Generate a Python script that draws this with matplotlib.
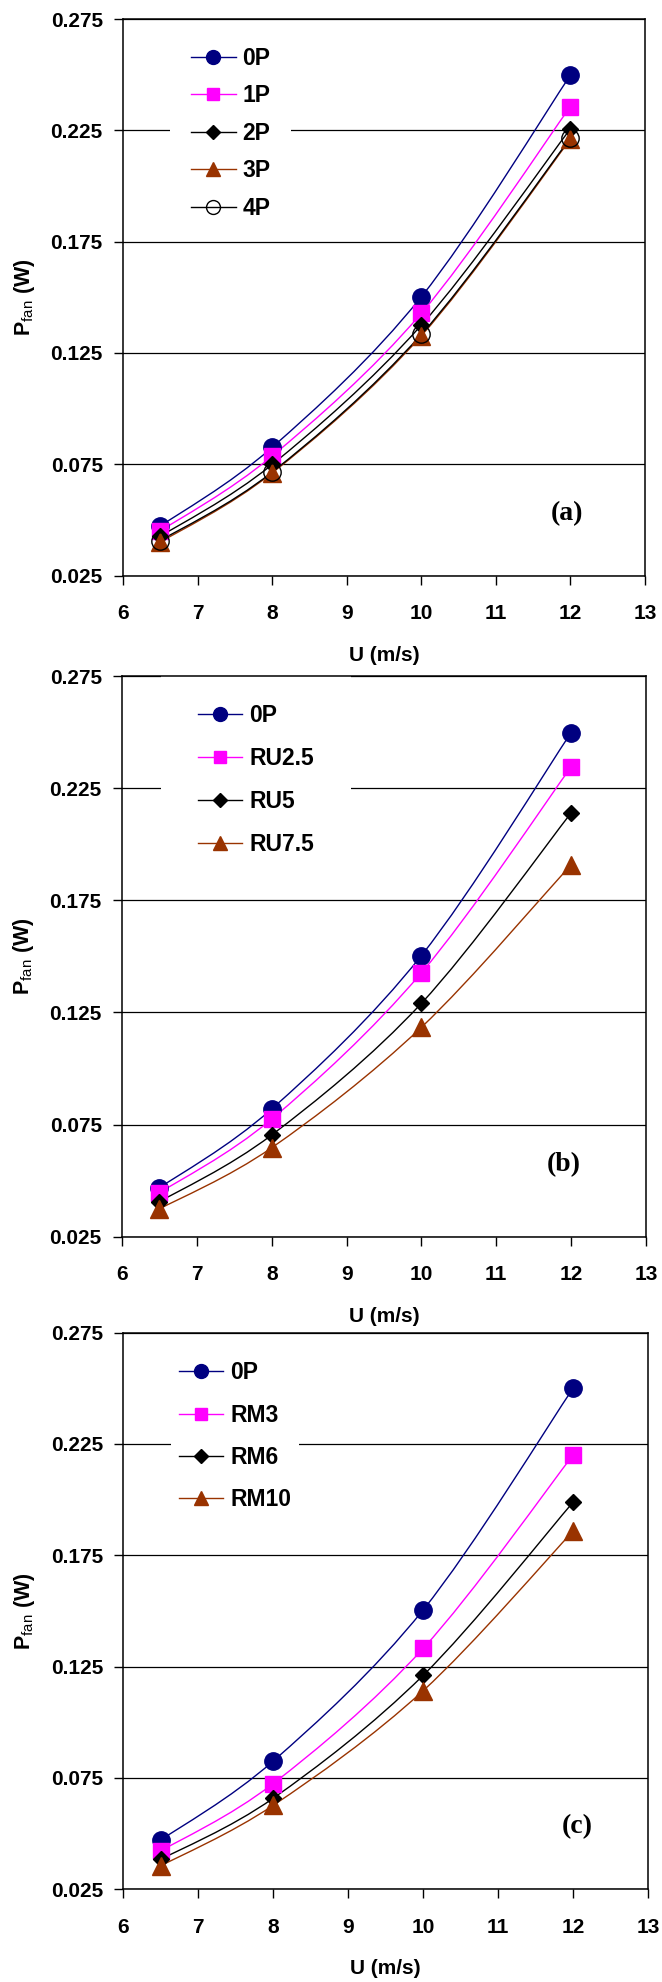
import matplotlib
matplotlib.use('Agg')
import matplotlib.pyplot as plt
from matplotlib.path import Path
from matplotlib.patches import PathPatch
from matplotlib.lines import Line2D

plt.rcParams['font.family'] = ['Liberation Sans', 'DejaVu Sans']
plt.rcParams['mathtext.fontset'] = 'custom'
plt.rcParams['mathtext.rm'] = 'Liberation Sans'
plt.rcParams['mathtext.bf'] = 'Liberation Sans:bold'

# wind speed U (m/s)
U = [6.5, 8, 10, 12]

# (a) number of plates
a_labels = ['0P', '1P', '2P', '3P', '4P']
a_0P = [0.0472, 0.0826, 0.1502, 0.2498]
a_1P = [0.0450, 0.0787, 0.1428, 0.2357]
a_2P = [0.0426, 0.0749, 0.1375, 0.2257]
a_3P = [0.0400, 0.0711, 0.1327, 0.2210]
a_4P = [0.0407, 0.0715, 0.1333, 0.2215]

# (b) RU cases
b_labels = ['0P', 'RU2.5', 'RU5', 'RU7.5']
b_0P = [0.0468, 0.0820, 0.1504, 0.2498]
b_RU25 = [0.0446, 0.0775, 0.1427, 0.2345]
b_RU5 = [0.0406, 0.0704, 0.1291, 0.2140]
b_RU75 = [0.0374, 0.0647, 0.1184, 0.1909]

# (c) RM cases
c_labels = ['0P', 'RM3', 'RM6', 'RM10']
c_0P = [0.0470, 0.0825, 0.1504, 0.2500]
c_RM3 = [0.0421, 0.0724, 0.1331, 0.2200]
c_RM6 = [0.0383, 0.0658, 0.1210, 0.1988]
c_RM10 = [0.0354, 0.0626, 0.1141, 0.1858]

y_ticks = [0.025, 0.075, 0.125, 0.175, 0.225, 0.275]
x_ticks = [6, 7, 8, 9, 10, 11, 12, 13]

NAVY = '#000080'
MAG = '#FF00FF'
BRN = '#993300'
styles = [
    dict(color=NAVY, marker='o', ms=12.5, mfc=NAVY, mec=NAVY),
    dict(color=MAG, marker='s', ms=11.5, mfc=MAG, mec=MAG),
    dict(color='black', marker='D', ms=8.5, mfc='black', mec='black'),
    dict(color=BRN, marker='^', ms=12.5, mfc=BRN, mec=BRN),
    dict(color='black', marker='o', ms=12.5, mfc='none', mec='black'),
]


def smooth_path(x, y):
    # Excel-like smoothed line: cubic Bezier through the points
    verts = [(x[0], y[0])]
    codes = [Path.MOVETO]
    n = len(x)
    for i in range(n - 1):
        i0 = max(i - 1, 0)
        i3 = min(i + 2, n - 1)
        c1 = (x[i] + (x[i + 1] - x[i0]) / 6, y[i] + (y[i + 1] - y[i0]) / 6)
        c2 = (x[i + 1] - (x[i3] - x[i]) / 6, y[i + 1] - (y[i3] - y[i]) / 6)
        verts += [c1, c2, (x[i + 1], y[i + 1])]
        codes += [Path.CURVE4] * 3
    return Path(verts, codes)


def panel(rect, series, labels, tag, tag_xy, leg):
    ax = fig.add_axes(rect)
    ax.set_xlim(6, 13)
    ax.set_ylim(0.025, 0.275)
    ax.set_axisbelow(True)
    ax.yaxis.grid(True, color='black', lw=0.9)
    handles = []
    for vals, st in zip(series, styles):
        ax.add_patch(PathPatch(smooth_path(U, vals), fill=False,
                               edgecolor=st['color'], lw=1.0, zorder=2))
        ax.plot(U, vals, ls='none', marker=st['marker'], ms=st['ms'],
                mfc=st['mfc'], mec=st['mec'], mew=1.0, zorder=3)
        handles.append(Line2D([0], [0], color=st['color'], lw=1.0,
                              marker=st['marker'], ms=st['ms'] * 0.8,
                              mfc=st['mfc'], mec=st['mec'], mew=1.0))
    lg = ax.legend(handles, labels, loc='upper left', bbox_to_anchor=leg['anchor'],
                   borderaxespad=0, borderpad=leg['pad'], labelspacing=leg['space'],
                   handlelength=1.95, handletextpad=0.3, frameon=True,
                   fancybox=False, edgecolor='none', facecolor='white', framealpha=1,
                   prop=dict(size=16.5, weight='bold'))
    lg.set_zorder(2.4)  # below the spines, above the grid
    ax.set_xticks(x_ticks)
    ax.set_yticks(y_ticks)
    ax.set_yticklabels(['%.3f' % v for v in y_ticks])
    ax.tick_params(axis='both', direction='out', length=6.5, width=1.0,
                   labelsize=15)
    ax.tick_params(axis='x', pad=14)
    ax.tick_params(axis='y', pad=8)
    for lab in ax.get_xticklabels() + ax.get_yticklabels():
        lab.set_fontweight('bold')
    for s in ax.spines.values():
        s.set_linewidth(1.1)
        s.set_color('black')
    ax.text(0.5, -0.143, 'U (m/s)', transform=ax.transAxes, ha='center',
            va='center', fontsize=15, fontweight='bold')
    ax.text(-0.188, 0.5, r'$\mathbf{P}_{\mathrm{fan}}$ (W)', transform=ax.transAxes,
            ha='center', va='center', rotation=90, fontsize=15.5, fontweight='bold')
    ax.text(tag_xy[0], tag_xy[1], tag, ha='center', va='center',
            fontsize=20, fontweight='bold', family='Liberation Serif')
    return ax


fig = plt.figure(figsize=(6.62, 19.82), dpi=100)

panel([0.1858, 0.7096, 0.7885, 0.2808],
      [a_0P, a_1P, a_2P, a_3P, a_4P], a_labels, '(a)', (11.95, 0.053),
      dict(anchor=(0.0905, 0.987), pad=0.9, space=0.63))
panel([0.1843, 0.3760, 0.7915, 0.2829],
      [b_0P, b_RU25, b_RU5, b_RU75], b_labels, '(b)', (11.9, 0.057),
      dict(anchor=(0.0744, 1.016), pad=1.6, space=0.87))
panel([0.1862, 0.0469, 0.7926, 0.2807],
      [c_0P, c_RM3, c_RM6, c_RM10], c_labels, '(c)', (12.05, 0.053),
      dict(anchor=(0.091, 0.962), pad=0.33, space=0.84))

fig.savefig('out.png', dpi=100)
